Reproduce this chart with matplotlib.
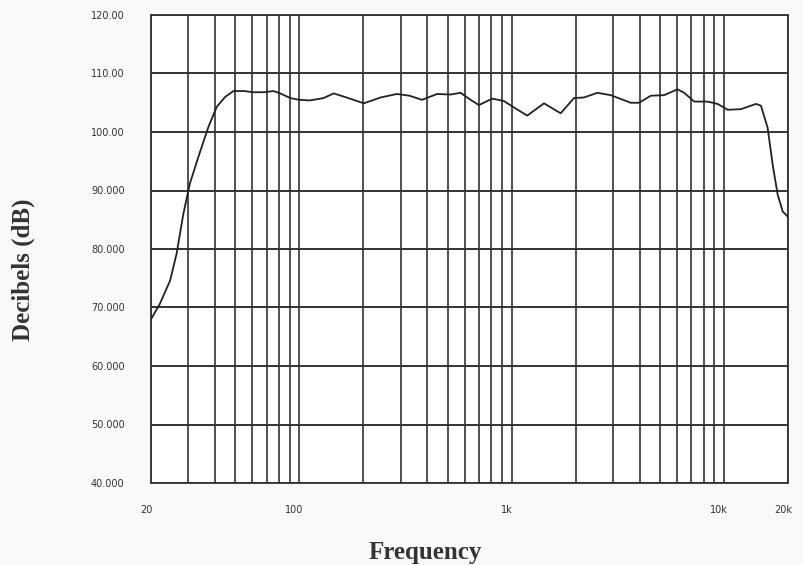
import matplotlib
matplotlib.use("Agg")
import matplotlib.pyplot as plt
from matplotlib.ticker import LogLocator, NullFormatter, FixedLocator, FixedFormatter
from matplotlib.transforms import ScaledTranslation

# frequency response
freq = [20, 22, 24.6, 26.4, 28.4, 30.5, 33.4, 37.3, 40.8, 44.7, 48.9, 55, 60.7, 68,
        75.5, 81.2, 90.6, 100, 112, 130, 145, 170, 201, 241, 288, 330, 378, 445,
        514, 574, 640, 700, 809, 918, 1023, 1183, 1419, 1700, 1964, 2188, 2530,
        2924, 3632, 3980, 4518, 5224, 6039, 6490, 7232, 8360, 9320, 10400, 12000,
        14130, 14920, 16040, 16940, 17880, 18890, 20000]
db = [68.0, 70.6, 74.6, 79.2, 86.0, 91.2, 95.7, 100.9, 104.3, 106.0, 107.0, 107.0,
      106.8, 106.8, 107.0, 106.6, 105.8, 105.5, 105.4, 105.8, 106.6, 105.8, 104.9,
      105.9, 106.5, 106.2, 105.5, 106.5, 106.4, 106.7, 105.5, 104.6, 105.7, 105.3,
      104.2, 102.8, 104.9, 103.2, 105.8, 105.9, 106.7, 106.3, 105.0, 105.0, 106.2,
      106.3, 107.3, 106.7, 105.2, 105.2, 104.8, 103.8, 103.9, 104.8, 104.5, 100.7,
      94.4, 89.3, 86.4, 85.5]

x_ticks = [20, 100, 1000, 10000, 20000]
x_labels = ["20", "100", "1k", "10k", "20k"]
y_ticks = [40, 50, 60, 70, 80, 90, 100, 110, 120]
y_labels = ["40.000", "50.000", "60.000", "70.000", "80.000", "90.000",
            "100.00", "110.00", "120.00"]

fig = plt.figure(figsize=(8.04, 5.65), dpi=100)
fig.patch.set_facecolor("#f9f9f9")
ax = fig.add_axes([151 / 804, 1 - 483 / 565, (788 - 151) / 804, (483 - 15) / 565])
ax.set_facecolor("white")

ax.plot(freq, db, color="#222222", lw=1.3, zorder=3)

ax.set_xscale("log")
ax.set_xlim(20, 20000)
ax.set_ylim(40, 120)
ax.xaxis.set_major_locator(FixedLocator(x_ticks))
ax.xaxis.set_major_formatter(FixedFormatter(x_labels))
ax.xaxis.set_minor_locator(LogLocator(base=10, subs=range(2, 10)))
ax.xaxis.set_minor_formatter(NullFormatter())
ax.set_yticks(y_ticks)
ax.set_yticklabels(y_labels)

ax.grid(True, which="both", axis="x", color="#333333", lw=1.2)
ax.grid(True, which="major", axis="y", color="#333333", lw=1.4)
ax.set_axisbelow(True)
for s in ax.spines.values():
    s.set_color("#333333")
    s.set_linewidth(1.3)

ax.tick_params(which="both", length=0)
ax.tick_params(axis="x", pad=16, labelsize=7, colors="#333333")
ax.tick_params(axis="y", pad=19, labelsize=7, colors="#333333")
shift = ScaledTranslation(-5 / 100, 0, fig.dpi_scale_trans)
for lbl in ax.get_xticklabels():
    lbl.set_family("DejaVu Sans")
    lbl.set_transform(lbl.get_transform() + shift)
for lbl in ax.get_yticklabels():
    lbl.set_family("DejaVu Sans")

ax.set_xlabel("Frequency", family="Liberation Serif", fontweight="bold",
              fontsize=18, color="#333333")
ax.set_ylabel("Decibels (dB)", family="Liberation Serif", fontweight="bold",
              fontsize=18, color="#333333")
ax.xaxis.set_label_coords((425 - 151) / 637, -(552 - 483) / 468)
ax.yaxis.set_label_coords((23 - 151) / 637, (483 - 270) / 468)
ax.xaxis.label.set_va("center")
ax.yaxis.label.set_va("center")

fig.savefig("out.png", dpi=100, facecolor=fig.get_facecolor())
